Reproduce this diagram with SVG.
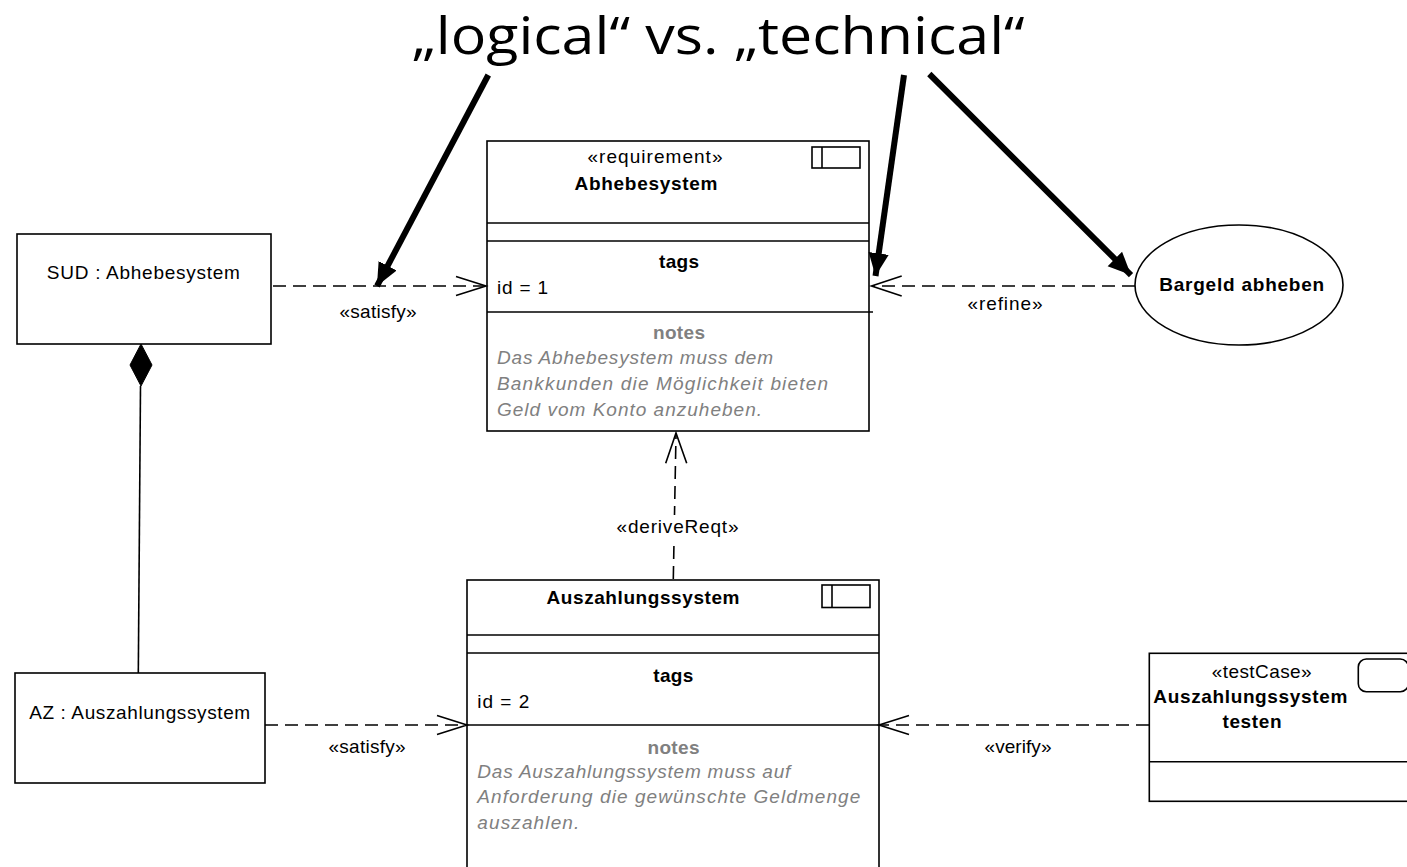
<svg xmlns="http://www.w3.org/2000/svg" width="1407" height="867" viewBox="0 0 1407 867">
<style>
.box{fill:#fff;stroke:#000;stroke-width:1.6}
.ln{stroke:#000;stroke-width:1.6;fill:none}
.dash{stroke:#000;stroke-width:1.6;fill:none;stroke-dasharray:13,7}
.t{font-family:"Liberation Sans",Arial,sans-serif;font-size:19px;fill:#000}
.b{font-weight:bold}
.c{text-anchor:middle}
.g{fill:#808080}
.i{font-style:italic}
.thick{stroke:#000;stroke-width:6;fill:none}
.title{font-family:"Open Sans","Noto Sans",sans-serif;font-size:51px;fill:#000}
</style>
<defs>
<marker id="big" markerWidth="4.2" markerHeight="4" refX="3.8" refY="1.7" orient="auto" markerUnits="strokeWidth" viewBox="0 0 4.2 3.4">
<path d="M0,0 L3.8,1.7 L0,3.4 Z" fill="#000"/>
</marker>
</defs>
<rect width="1407" height="867" fill="#fff"/>
<text class="title" x="411.7" y="54" textLength="613" lengthAdjust="spacingAndGlyphs">„logical“ vs. „technical“</text>

<g id="abhebesystem">
<rect class="box" x="487" y="141" width="382" height="290"/>
<line class="ln" x1="487" y1="223" x2="869" y2="223"/>
<line class="ln" x1="487" y1="241" x2="869" y2="241"/>
<line class="ln" x1="487" y1="312" x2="873" y2="312"/>
<rect class="box" x="812" y="147" width="48" height="21"/>
<line class="ln" x1="822" y1="147" x2="822" y2="168"/>
<text class="t c" x="655" y="163" textLength="135">«requirement»</text>
<text class="t c b" x="646" y="190" textLength="143">Abhebesystem</text>
<text class="t c b" x="679" y="268" textLength="40">tags</text>
<text class="t" x="497" y="294" textLength="51">id = 1</text>
<text class="t c b g" x="679" y="339" textLength="52">notes</text>
<text class="t i g" x="497" y="364" textLength="276">Das Abhebesystem muss dem</text>
<text class="t i g" x="497" y="390" textLength="331">Bankkunden die Möglichkeit bieten</text>
<text class="t i g" x="497" y="416" textLength="265">Geld vom Konto anzuheben.</text>
</g>

<g id="auszahlungssystem">
<rect class="box" x="467" y="580" width="412" height="300"/>
<line class="ln" x1="467" y1="635" x2="879" y2="635"/>
<line class="ln" x1="467" y1="653" x2="879" y2="653"/>
<line class="ln" x1="467" y1="725" x2="879" y2="725"/>
<rect class="box" x="822" y="585" width="48" height="22.5"/>
<line class="ln" x1="832" y1="585" x2="832" y2="607.5"/>
<text class="t c b" x="643" y="604" textLength="193">Auszahlungssystem</text>
<text class="t c b" x="673.3" y="682" textLength="40">tags</text>
<text class="t" x="477.3" y="708" textLength="52">id = 2</text>
<text class="t c b g" x="673.5" y="754" textLength="52">notes</text>
<text class="t i g" x="477.3" y="778" textLength="313">Das Auszahlungssystem muss auf</text>
<text class="t i g" x="477.3" y="803" textLength="383">Anforderung die gewünschte Geldmenge</text>
<text class="t i g" x="477.3" y="829" textLength="102">auszahlen.</text>
</g>

<g id="sud">
<rect class="box" x="17" y="234" width="254" height="110"/>
<text class="t c" x="143.3" y="279" textLength="193">SUD : Abhebesystem</text>
</g>

<g id="az">
<rect class="box" x="15" y="673" width="250" height="110"/>
<text class="t c" x="139.7" y="719" textLength="221">AZ : Auszahlungssystem</text>
</g>

<g id="bargeld">
<ellipse class="box" cx="1239" cy="285" rx="104" ry="60"/>
<text class="t c b" x="1241.7" y="291" textLength="165">Bargeld abheben</text>
</g>

<g id="testcase">
<rect class="box" x="1149.3" y="653.3" width="265" height="148"/>
<line class="ln" x1="1149.3" y1="761.7" x2="1410" y2="761.7"/>
<rect class="box" x="1358.3" y="659" width="50" height="32.7" rx="8"/>
<text class="t c" x="1261.7" y="678" textLength="100">«testCase»</text>
<text class="t c b" x="1250.3" y="703" textLength="194">Auszahlungssystem</text>
<text class="t c b" x="1252" y="728" textLength="59">testen</text>
</g>

<g id="connectors">
<line class="dash" x1="273" y1="286" x2="485" y2="286"/>
<polyline class="ln" points="456,276.5 486,286 456,295.5"/>
<text class="t c" x="378" y="318" textLength="77">«satisfy»</text>

<line class="dash" x1="1135" y1="286" x2="873" y2="286"/>
<polyline class="ln" points="901.7,276 871.5,286 901.7,296"/>
<text class="t c" x="1005" y="310" textLength="75">«refine»</text>

<line class="dash" x1="673.3" y1="579" x2="676" y2="435"/>
<polyline class="ln" points="665.7,463.3 676,433 686.7,463.3"/>
<rect x="614" y="515" width="127" height="24" fill="#fff"/>
<text class="t c" x="677.5" y="533" textLength="122">«deriveReqt»</text>

<line class="dash" x1="265" y1="725" x2="466" y2="725"/>
<polyline class="ln" points="437,715.5 467,725 437,734.5"/>
<text class="t c" x="367" y="753" textLength="77">«satisfy»</text>

<line class="dash" x1="1149" y1="725" x2="881" y2="725"/>
<polyline class="ln" points="909,715.5 879,725 909,734.5"/>
<text class="t c" x="1018" y="753" textLength="67">«verify»</text>

<path d="M141,344 L152,365 L141,386 L130,365 Z" fill="#000" stroke="#000" stroke-width="1"/>
<line class="ln" x1="140.5" y1="386" x2="138.3" y2="673"/>

<line class="thick" x1="488.3" y1="75" x2="377" y2="286" marker-end="url(#big)"/>
<line class="thick" x1="904" y1="75" x2="875.5" y2="276" marker-end="url(#big)"/>
<line class="thick" x1="929.3" y1="74" x2="1131" y2="275" marker-end="url(#big)"/>
</g>
</svg>
